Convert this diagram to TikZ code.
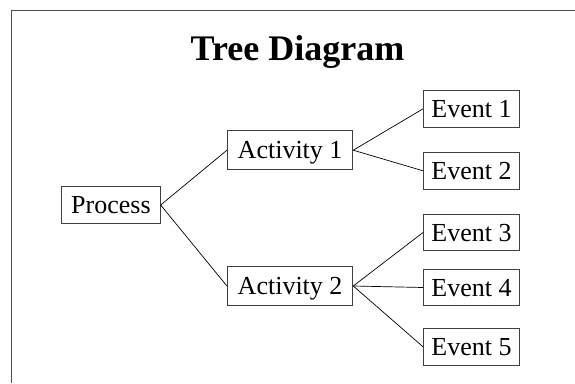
\documentclass[tikz,border=0pt]{standalone}
\usepackage{fontspec}
\setmainfont{Liberation Serif}
\begin{document}
\begin{tikzpicture}[x=1pt,y=-1pt,
  box/.style={draw=black!75, line width=0.9pt, fill=white, inner sep=0pt,
    text height=22pt, text depth=5pt, minimum height=38pt,
    font=\fontsize{26}{30}\selectfont},
  procbox/.style={box, minimum width=98.6pt, minimum height=36.6pt},
  actbox/.style={box, minimum width=125.4pt, minimum height=39pt},
  evbox/.style={box, minimum width=96pt, minimum height=36.5pt},
  link/.style={draw=black, line width=0.7pt}]
\useasboundingbox (0,0) rectangle (575,383);
% frame
\draw[black!70, line width=1.3pt] (11.7,383) -- (11.7,10.7) -- (575,10.7);
% title
\node[anchor=base, inner sep=0pt, font=\fontsize{36}{40}\selectfont\bfseries] (title) at (297.5,60.5) {Tree Diagram};
% nodes
\node[procbox] (p) at (110.9,205) {Process};
\node[actbox] (a1) at (290.1,150.2) {Activity 1};
\node[actbox] (a2) at (290.1,286) {Activity 2};
\node[evbox] (e1) at (471.5,108.8) {Event 1};
\node[evbox] (e2) at (471.5,170.8) {Event 2};
\node[evbox] (e3) at (471.5,232.5) {Event 3};
\node[evbox] (e4) at (471.5,287.5) {Event 4};
\node[evbox] (e5) at (471.5,346.8) {Event 5};
% connectors
\draw[link] (p.east) -- (a1.west);
\draw[link] (p.east) -- (a2.west);
\draw[link] (a1.east) -- (e1.west);
\draw[link] (a1.east) -- (e2.west);
\draw[link] (a2.east) -- (e3.west);
\draw[link] (a2.east) -- (e4.west);
\draw[link] (a2.east) -- (e5.west);
\end{tikzpicture}
\end{document}
